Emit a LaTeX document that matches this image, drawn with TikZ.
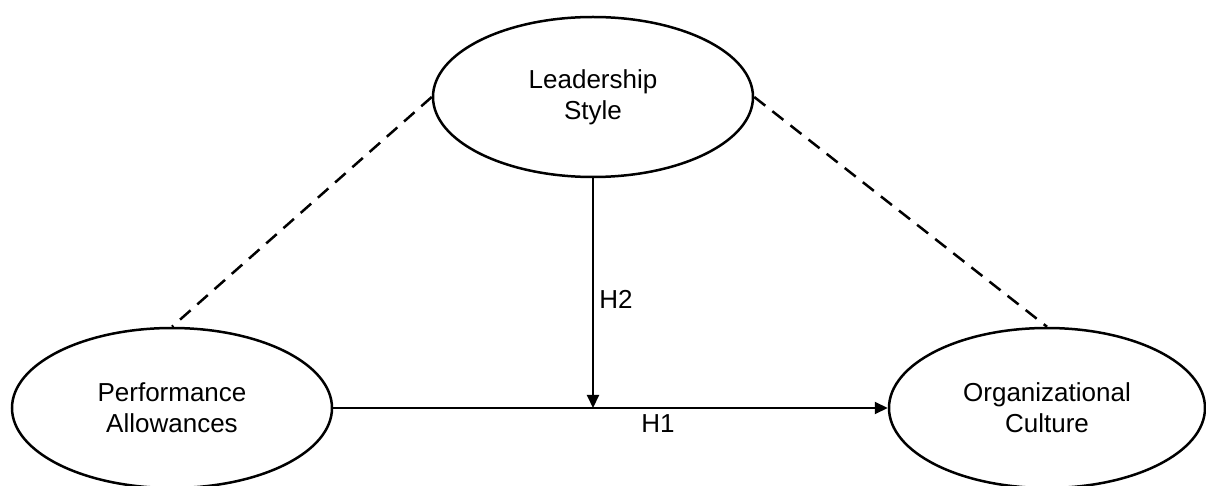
\documentclass[tikz,border=0pt]{standalone}
\usepackage{fontspec}
\setmainfont{Liberation Sans}
\usetikzlibrary{shapes.geometric,arrows.meta}
\begin{document}
\begin{tikzpicture}[x=0.5pt,y=-0.5pt,
  latent/.style={draw,line width=1.25pt,ellipse,minimum width=160pt,minimum height=80pt,inner sep=0pt,align=center,font=\fontsize{13}{15.5}\selectfont},
  arrowline/.style={line width=1.05pt,-{Triangle[length=6.5pt,width=6pt]}},
  dashline/.style={line width=1.25pt,dash pattern=on 7pt off 4.5pt},
  lbl/.style={font=\fontsize{13}{15}\selectfont,inner sep=0pt}]
\useasboundingbox (0,0) rectangle (1206,486);
\node[latent] (L) at (593,97) {Leadership\\Style};
\node[latent] (P) at (172,408) {Performance\\Allowances};
\node[latent,minimum width=158pt] (O) at (1047,408) {Organizational\\Culture};
\draw[arrowline] (P.east) -- (O.west);
\coordinate (J) at (L.south |- P.east);
\draw[arrowline] (L.south) -- (J);
\draw[dashline] (L.west) -- (P.north);
\draw[dashline] (L.east) -- (O.north);
\node[lbl,anchor=west] (H2) at (599,299) {H2};
\node[lbl] (H1) at (658,424) {H1};
\end{tikzpicture}
\end{document}
